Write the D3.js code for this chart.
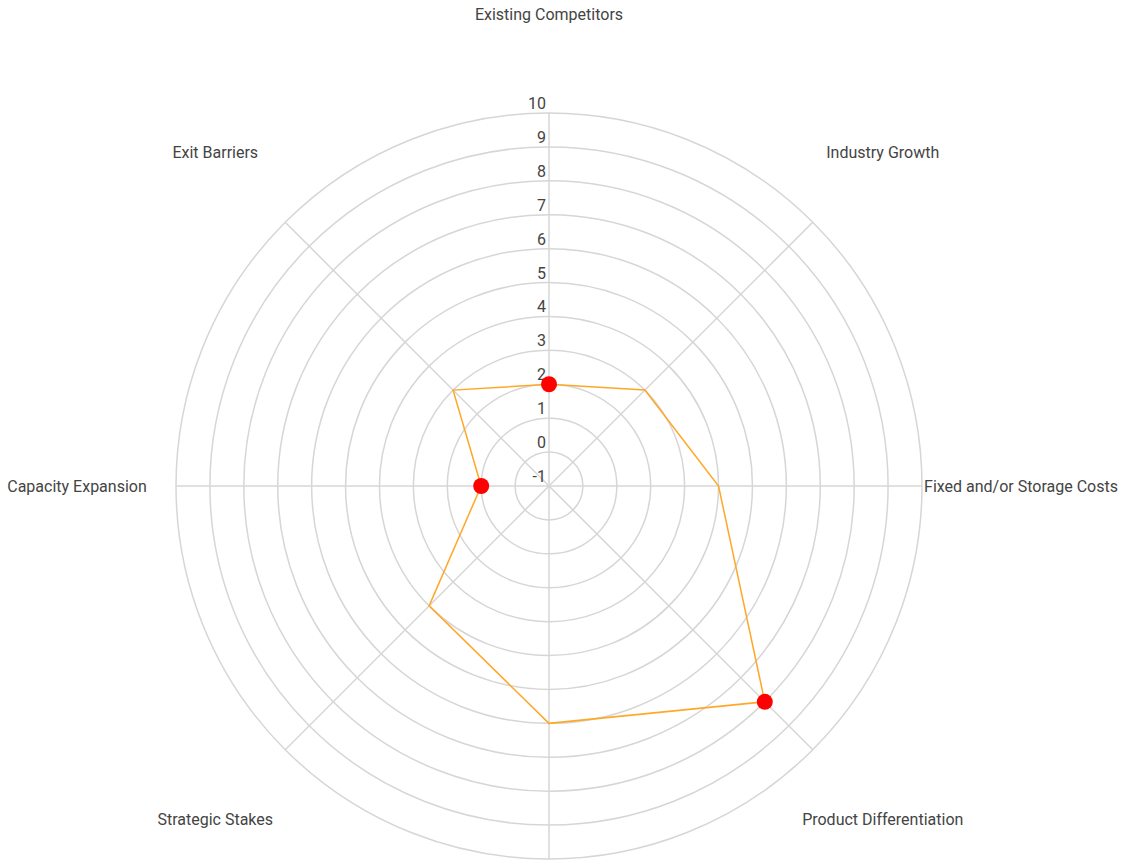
<!DOCTYPE html>
<html>
<head>
<meta charset="utf-8">
<script src="https://cdn.jsdelivr.net/npm/d3@7"></script>
<style>
    body { margin: 0; background: #fff; }
    text { font-family: Roboto, "Noto Sans", sans-serif; fill: #444; }
    .grid { fill: none; stroke: #d6d6d6; stroke-width: 1.5; }
    .spoke { stroke: #d6d6d6; stroke-width: 1.5; }
    .area { fill: none; stroke: #ffa726; stroke-width: 1.5; }
    .dot { fill: #ff0000; }
</style>
</head>
<body>
<div id="chart"></div>
<script>
// Chart data
var categories = ["Existing Competitors", "Industry Growth", "Fixed and/or Storage Costs",
    "Product Differentiation", "Switching Costs", "Strategic Stakes",
    "Capacity Expansion", "Exit Barriers"];
var values = [2, 3, 4, 8, 6, 4, 1, 3];
var highlighted = [true, false, false, true, false, false, true, false];
var tickValues = [-1, 0, 1, 2, 3, 4, 5, 6, 7, 8, 9, 10];

function init() {
    const w = 1131;
    const h = 861;
    const cx = 549;
    const cy = 486;
    const radius = 373;
    const labelRadius = 472;

    var svg = d3.select("#chart").append("svg").attr("width", w).attr("height", h);
    var g = svg.append("g").attr("transform", "translate(" + cx + "," + cy + ")");

    // radial scale, -1 sits at the centre
    var rScale = d3.scaleLinear()
        .domain([d3.min(tickValues), d3.max(tickValues)])
        .range([0, radius]);

    var angle = d3.scalePoint()
        .domain(categories)
        .range([0, 2 * Math.PI * (categories.length - 1) / categories.length]);

    // Rings
    g.selectAll(".grid")
        .data(tickValues.filter((d) => rScale(d) > 0))
        .enter().append("circle")
        .attr("class", "grid")
        .attr("r", (d) => rScale(d));

    // Spokes
    g.selectAll(".spoke")
        .data(categories)
        .enter().append("line")
        .attr("class", "spoke")
        .attr("x1", 0).attr("y1", 0)
        .attr("x2", (d) => radius * Math.sin(angle(d)))
        .attr("y2", (d) => -radius * Math.cos(angle(d)));

    // Tick labels along the top spoke
    g.selectAll(".tick")
        .data(tickValues)
        .enter().append("text")
        .attr("class", "tick")
        .attr("x", -3)
        .attr("y", (d) => -rScale(d) - 4)
        .attr("text-anchor", "end")
        .style("font-size", "16px")
        .text((d) => d);

    // Category labels (the one below the chart falls off the page, as in the original)
    var labelY = (d) => -labelRadius * Math.cos(angle(d));
    g.selectAll(".label")
        .data(categories.filter((d) => cy + labelY(d) < h))
        .enter().append("text")
        .attr("class", "label")
        .attr("x", (d) => labelRadius * Math.sin(angle(d)))
        .attr("y", labelY)
        .attr("dy", "0.35em")
        .attr("text-anchor", "middle")
        .style("font-size", "16px")
        .text((d) => d);

    // The series line
    var line = d3.lineRadial()
        .angle((d, i) => angle(categories[i]))
        .radius((d) => rScale(d))
        .curve(d3.curveLinearClosed);

    g.append("path")
        .datum(values)
        .attr("class", "area")
        .attr("d", line);

    // Highlighted points
    g.selectAll(".dot")
        .data(values.map((v, i) => ({ cat: categories[i], v: v, on: highlighted[i] })).filter((d) => d.on))
        .enter().append("circle")
        .attr("class", "dot")
        .attr("r", 8)
        .attr("cx", (d) => rScale(d.v) * Math.sin(angle(d.cat)))
        .attr("cy", (d) => -rScale(d.v) * Math.cos(angle(d.cat)));
}

window.onload = init;
</script>
</body>
</html>
